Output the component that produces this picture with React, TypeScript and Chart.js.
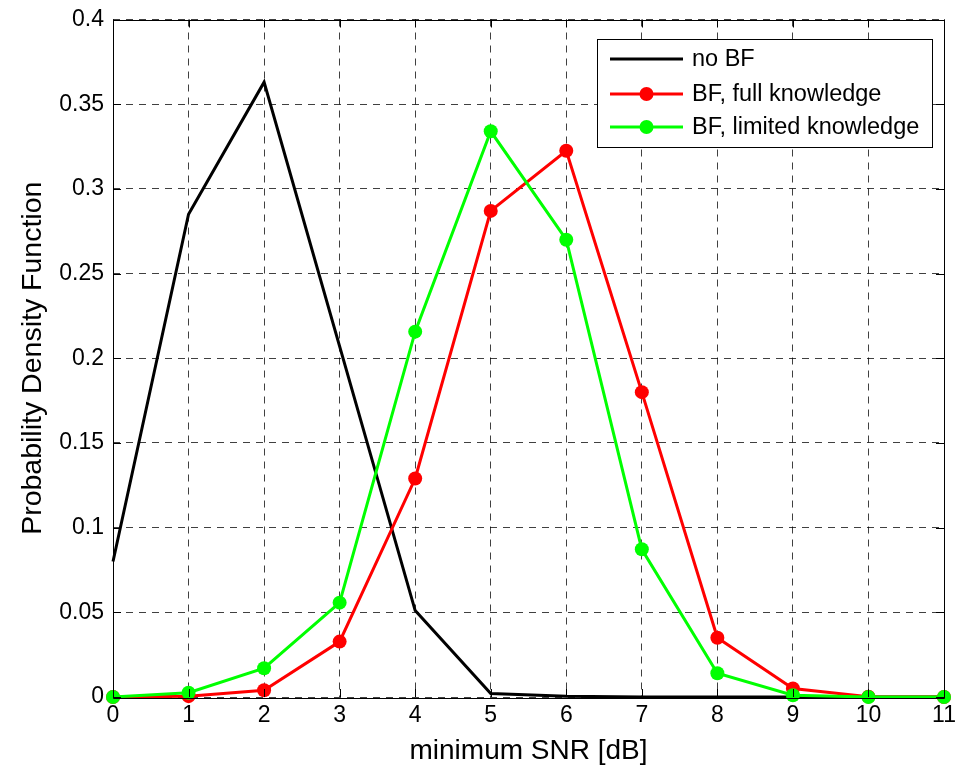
import React, { useEffect, useRef } from "react";
import { Chart, registerables } from "chart.js";

Chart.register(...registerables);

const snr = [0, 1, 2, 3, 4, 5, 6, 7, 8, 9, 10, 11];
const noBF = [0.08, 0.285, 0.363, 0.207, 0.051, 0.002, 0.0004, 0, 0, 0, 0, 0];
const fullKnowledge = [0, 0.0005, 0.004, 0.0327, 0.129, 0.287, 0.3225, 0.18, 0.035, 0.005, 0.0002, 0];
const limitedKnowledge = [0, 0.0025, 0.017, 0.0557, 0.2157, 0.334, 0.27, 0.0872, 0.014, 0.001, 0, 0];
const seriesLabels = ["no BF", "BF, full knowledge", "BF, limited knowledge"];

const FONT = "'Liberation Sans', Arial, sans-serif";

const boxPlugin = {
  id: "matlabBox",
  afterDatasetsDraw(chart: any) {
    const { ctx, chartArea: a, scales } = chart;
    ctx.save();
    ctx.strokeStyle = "#000";
    ctx.lineWidth = 1;
    ctx.setLineDash([]);
    ctx.beginPath();
    ctx.rect(Math.round(a.left) + 0.5, Math.round(a.top) + 0.5, Math.round(a.right - a.left), Math.round(a.bottom - a.top));
    ctx.stroke();
    const tl = 8;
    ctx.beginPath();
    scales.x.ticks.forEach((t: any) => {
      const px = Math.round(scales.x.getPixelForValue(t.value)) + 0.5;
      ctx.moveTo(px, a.bottom);
      ctx.lineTo(px, a.bottom - tl);
      ctx.moveTo(px, a.top);
      ctx.lineTo(px, a.top + tl);
    });
    scales.y.ticks.forEach((t: any) => {
      const py = Math.round(scales.y.getPixelForValue(t.value)) + 0.5;
      ctx.moveTo(a.left, py);
      ctx.lineTo(a.left + tl, py);
      ctx.moveTo(a.right, py);
      ctx.lineTo(a.right - tl, py);
    });
    ctx.stroke();
    ctx.restore();
  },
  afterDraw(chart: any) {
    const { ctx, chartArea: a } = chart;
    const w = 335;
    const h = 108;
    const left = a.right - 12 - w;
    const top = a.top + 19.5;
    ctx.save();
    ctx.fillStyle = "#fff";
    ctx.fillRect(left, top, w, h);
    ctx.strokeStyle = "#000";
    ctx.lineWidth = 1;
    ctx.setLineDash([]);
    ctx.strokeRect(Math.round(left) + 0.5, Math.round(top) + 0.5, w, h);
    ctx.font = `23.5px ${FONT}`;
    ctx.textBaseline = "middle";
    ctx.textAlign = "left";
    const rows = [top + 20, top + 55, top + 88];
    chart.data.datasets.forEach((ds: any, i: number) => {
      const y = rows[i];
      const x0 = left + 13;
      const x1 = x0 + 73;
      ctx.strokeStyle = ds.borderColor;
      ctx.lineWidth = 3;
      ctx.beginPath();
      ctx.moveTo(x0, y);
      ctx.lineTo(x1, y);
      ctx.stroke();
      if (ds.pointRadius > 0) {
        ctx.fillStyle = ds.borderColor;
        ctx.beginPath();
        ctx.arc((x0 + x1) / 2, y, 7, 0, Math.PI * 2);
        ctx.fill();
      }
      ctx.fillStyle = "#000";
      ctx.fillText(ds.label, x1 + 9, y + 1);
    });
    ctx.restore();
  },
};

export default function App() {
  const ref = useRef<HTMLCanvasElement>(null);
  useEffect(() => {
    if (!ref.current) return;
    const mk = (vals: number[]) => vals.map((v, i) => ({ x: snr[i], y: v }));
    const chart = new Chart(ref.current, {
      type: "line",
      data: {
        datasets: [
          {
            label: seriesLabels[0],
            data: mk(noBF),
            borderColor: "#000000",
            backgroundColor: "#000000",
            borderWidth: 3,
            pointRadius: 0,
            order: 3,
            clip: false,
          },
          {
            label: seriesLabels[1],
            data: mk(fullKnowledge),
            borderColor: "#ff0000",
            backgroundColor: "#ff0000",
            borderWidth: 3,
            pointRadius: 7,
            pointBorderWidth: 0,
            order: 2,
            clip: false,
          },
          {
            label: seriesLabels[2],
            data: mk(limitedKnowledge),
            borderColor: "#00ff00",
            backgroundColor: "#00ff00",
            borderWidth: 3,
            pointRadius: 7,
            pointBorderWidth: 0,
            order: 1,
            clip: false,
          },
        ],
      },
      options: {
        responsive: false,
        animation: false,
        events: [],
        layout: { padding: { top: 19.5, right: 14, left: 0, bottom: 0 } },
        plugins: { legend: { display: false }, tooltip: { enabled: false } },
        elements: { line: { tension: 0 } },
        scales: {
          x: {
            type: "linear",
            min: 0,
            max: 11,
            afterFit: (s: any) => {
              s.height = 68;
              s.paddingLeft = 0;
              s.paddingRight = 0;
            },
            ticks: {
              stepSize: 1,
              color: "#000",
              padding: 5,
              font: { family: FONT, size: 23 },
            },
            grid: {
              color: "rgba(0,0,0,0.75)",
              lineWidth: 1,
              drawTicks: false,
            },
            border: { display: false, dash: [7, 6] },
            title: {
              display: true,
              text: "minimum SNR [dB]",
              color: "#000",
              padding: { top: 0, bottom: 0 },
              font: { family: FONT, size: 28, lineHeight: 1 },
            },
          },
          y: {
            type: "linear",
            min: 0,
            max: 0.4,
            afterFit: (s: any) => {
              s.width = 113;
              s.paddingTop = 0;
              s.paddingBottom = 0;
            },
            ticks: {
              stepSize: 0.05,
              color: "#000",
              padding: 9,
              font: { family: FONT, size: 23 },
              callback: (v: any) => String(Number(Number(v).toFixed(2))),
            },
            grid: {
              color: "rgba(0,0,0,0.75)",
              lineWidth: 1,
              drawTicks: false,
            },
            border: { display: false, dash: [7, 6] },
            title: {
              display: true,
              text: "Probability Density Function",
              color: "#000",
              padding: { top: 19, bottom: 0 },
              font: { family: FONT, size: 28.5, lineHeight: 1 },
            },
          },
        },
      },
      plugins: [boxPlugin],
    });
    return () => chart.destroy();
  }, []);
  return (
    <div style={{ position: "absolute", left: 0, top: 0, width: 958, height: 765, background: "#fff" }}>
      <canvas ref={ref} width={958} height={765} />
    </div>
  );
}
